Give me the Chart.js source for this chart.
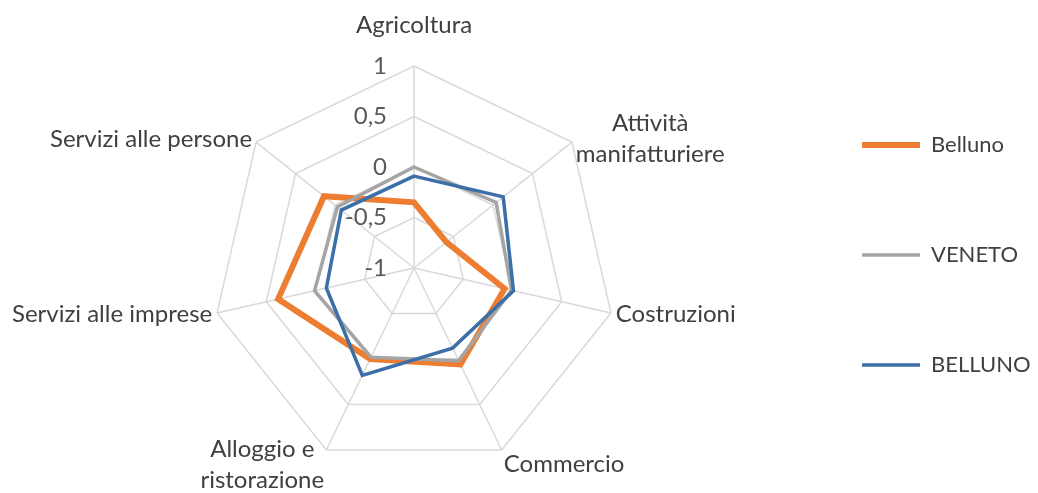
<!DOCTYPE html>
<html>
<head>
<meta charset="utf-8">
<script src="https://cdn.jsdelivr.net/npm/chart.js@4.4.1/dist/chart.umd.min.js"></script>
<style>
    html, body { margin: 0; padding: 0; background: #fff; }
    .chart-box { position: relative; width: 1038px; height: 493px; }
</style>
</head>
<body>
<div class="chart-box"><canvas id="radar-chart"></canvas></div>
<script>
// DATA
var categories = [
    'Agricoltura',
    ['Attività', 'manifatturiere'],
    'Costruzioni',
    'Commercio',
    ['Alloggio e', 'ristorazione'],
    'Servizi alle imprese',
    'Servizi alle persone'
];
var seriesNames = ['Belluno', 'VENETO', 'BELLUNO'];
var bellunoValues = [-0.35, -0.59, -0.08, 0.06, 0.0, 0.38, 0.14];
var venetoValues = [0.0, 0.04, -0.01, 0.02, -0.02, 0.01, -0.03];
var bellunoCapsValues = [-0.09, 0.13, 0.01, -0.12, 0.18, -0.11, -0.08];
var tickLabels = ['-1', '-0,5', '0', '0,5', '1'];

Chart.defaults.font.family = 'Lato, "Open Sans", sans-serif';
Chart.defaults.color = '#404040';

var labelFont = '24px Lato, "Open Sans", sans-serif';

// tick labels sit left of the vertical axis, category labels outside the vertices
var radarText = {
    id: 'radarText',
    beforeDatasetsDraw: function (chart) {
        var scale = chart.scales.r;
        var ctx = chart.ctx;
        ctx.save();
        ctx.font = labelFont;
        ctx.fillStyle = '#595959';
        ctx.textAlign = 'right';
        ctx.textBaseline = 'middle';
        scale.ticks.forEach(function (t) {
            var d = scale.getDistanceFromCenterForValue(t.value);
            ctx.fillText(t.label, scale.xCenter - 27, scale.yCenter - d);
        });
        ctx.restore();
    },
    afterDraw: function (chart) {
        var scale = chart.scales.r;
        var ctx = chart.ctx;
        var dist = scale.drawingArea + 5;
        var lineH = 31;
        ctx.save();
        ctx.font = labelFont;
        ctx.fillStyle = '#404040';
        ctx.textAlign = 'center';
        ctx.textBaseline = 'middle';
        chart.data.labels.forEach(function (label, i) {
            var p = scale.getPointPosition(i, dist);
            var ux = (p.x - scale.xCenter) / dist;
            var uy = (p.y - scale.yCenter) / dist;
            var lines = [].concat(label);
            var h = lines.length * lineH;
            var w = Math.max.apply(null, lines.map(function (s) { return ctx.measureText(s).width; }));
            var left = ux > 0.2 ? p.x : (ux < -0.2 ? p.x - w : p.x - w / 2);
            var cy = uy < -0.9 ? p.y - 20 - h / 2 : (uy > 0.5 ? p.y + 10 : p.y);
            lines.forEach(function (s, k) {
                ctx.fillText(s, left + w / 2, cy - h / 2 + lineH * (k + 0.5));
            });
        });
        ctx.restore();
    }
};

var radarChartNode = document.getElementById('radar-chart').getContext('2d');
var radarChart = new Chart(radarChartNode, {
    type: 'radar',
    data: {
        labels: categories,
        datasets: [{
            label: seriesNames[0],
            data: bellunoValues,
            borderColor: '#ED7D31',
            borderWidth: 6,
            order: 3
        }, {
            label: seriesNames[1],
            data: venetoValues,
            borderColor: '#A5A5A5',
            borderWidth: 3.5,
            order: 2
        }, {
            label: seriesNames[2],
            data: bellunoCapsValues,
            borderColor: '#3C6EA8',
            borderWidth: 3.5,
            order: 1
        }]
    },
    options: {
        responsive: true,
        maintainAspectRatio: false,
        animation: false,
        elements: {
            point: { radius: 0, hoverRadius: 0 },
            line: { fill: false, tension: 0 }
        },
        layout: {
            padding: { left: 54, right: 0, top: 40, bottom: 23 }
        },
        scales: {
            r: {
                min: -1,
                max: 1,
                ticks: {
                    stepSize: 0.5,
                    display: false,
                    callback: function (value, index) { return tickLabels[index]; }
                },
                pointLabels: { display: false },
                grid: { color: '#d9d9d9', lineWidth: 1.5 },
                angleLines: { color: '#d9d9d9', lineWidth: 1.5 }
            }
        },
        plugins: {
            // empty spacer so the legend column can sit a bit higher than the radar centre
            title: {
                display: true,
                text: '',
                fullSize: false,
                padding: { top: 8, bottom: 8 },
                font: { size: 10, lineHeight: 1 }
            },
            legend: {
                position: 'right',
                fullSize: true,
                maxWidth: 264,
                labels: {
                    usePointStyle: true,
                    pointStyle: 'line',
                    pointStyleWidth: 58,
                    padding: 88,
                    color: '#404040',
                    font: { size: 22 },
                    sort: function (a, b) { return a.datasetIndex - b.datasetIndex; }
                }
            },
            tooltip: { enabled: false }
        }
    },
    plugins: [radarText]
});
</script>
</body>
</html>
